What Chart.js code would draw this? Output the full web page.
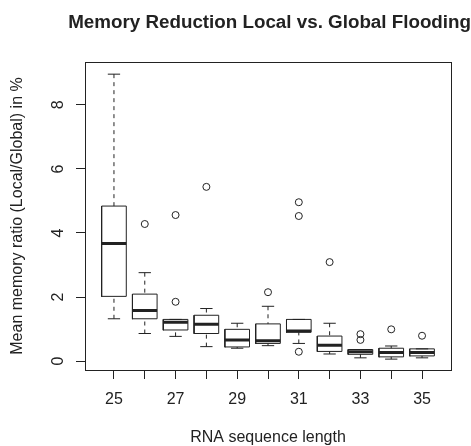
<!DOCTYPE html>
<html>
<head>
<meta charset="utf-8">
<script src="https://cdn.jsdelivr.net/npm/chart.js@4.4.0/dist/chart.umd.min.js"></script>
<style>
  html, body { margin: 0; padding: 0; background: #fff; }
  canvas { display: block; }
</style>
</head>
<body>
<canvas id="box_canvas" width="471" height="446"></canvas>
<script>
// values (mean memory ratio in %)
var lengths     = [25, 26, 27, 28, 29, 30, 31, 32, 33, 34, 35];
var whiskerLow  = [1.32, 0.86, 0.77, 0.45, 0.40, 0.48, 0.55, 0.22, 0.10, 0.06, 0.10];
var q1          = [2.02, 1.32, 0.97, 0.86, 0.44, 0.55, 0.90, 0.30, 0.21, 0.13, 0.16];
var median      = [3.67, 1.58, 1.21, 1.15, 0.66, 0.63, 0.94, 0.49, 0.29, 0.27, 0.27];
var q3          = [4.84, 2.09, 1.30, 1.43, 0.99, 1.16, 1.30, 0.78, 0.36, 0.40, 0.38];
var whiskerHigh = [8.96, 2.76, 1.30, 1.64, 1.18, 1.71, 1.30, 1.18, 0.36, 0.47, 0.38];
var outliers    = [[], [4.28], [4.56, 1.85], [5.44], [], [2.15], [4.96, 4.53, 0.29], [3.09], [0.84, 0.66], [0.99], [0.79]];

var xTicks = [25, 26, 27, 28, 29, 30, 31, 32, 33, 34, 35];
var yTicks = [0, 2, 4, 6, 8];

var ink = '#222';
var family = '"Liberation Sans", Arial, Helvetica, sans-serif';
var halfBox = 0.4, halfCap = 0.2;

function gap(x) { return {x: x, y: null}; }

var boxPts = [], medPts = [], whiskPts = [], capPts = [], outPts = [];
lengths.forEach(function(x, i) {
  boxPts.push({x: x - halfBox, y: q1[i]}, {x: x + halfBox, y: q1[i]},
              {x: x + halfBox, y: q3[i]}, {x: x - halfBox, y: q3[i]},
              {x: x - halfBox, y: q1[i]}, gap(x));
  medPts.push({x: x - halfBox, y: median[i]}, {x: x + halfBox, y: median[i]}, gap(x));
  whiskPts.push({x: x, y: whiskerHigh[i]}, {x: x, y: q3[i]}, gap(x),
                {x: x, y: whiskerLow[i]}, {x: x, y: q1[i]}, gap(x));
  capPts.push({x: x - halfCap, y: whiskerHigh[i]}, {x: x + halfCap, y: whiskerHigh[i]}, gap(x),
              {x: x - halfCap, y: whiskerLow[i]}, {x: x + halfCap, y: whiskerLow[i]}, gap(x));
  outliers[i].forEach(function(v) { outPts.push({x: x, y: v}); });
});

function lineSet(data, width, dash, cap) {
  return {
    data: data,
    borderColor: ink,
    borderWidth: width,
    borderDash: dash || [],
    borderCapStyle: cap || 'butt',
    borderJoinStyle: 'miter',
    pointRadius: 0,
    fill: false,
    spanGaps: false
  };
}

// plain box around the plot region, like R's box()
var framePlugin = {
  id: 'frame',
  afterDraw: function(chart) {
    var a = chart.chartArea, c = chart.ctx;
    c.save();
    c.strokeStyle = ink;
    c.lineWidth = 1;
    c.strokeRect(a.left + 0.5, a.top + 0.5, a.right - a.left, a.bottom - a.top);
    c.restore();
  }
};

var tickGrid = {display: true, drawOnChartArea: false, drawTicks: true, tickLength: 9, tickColor: ink, tickWidth: 1};

var boxChart = new Chart(document.getElementById('box_canvas'), {
  type: 'line',
  data: {
    datasets: [
      lineSet(whiskPts, 1, [4, 4]),
      lineSet(capPts, 1),
      lineSet(boxPts, 1, null, 'square'),
      lineSet(medPts, 3),
      {
        data: outPts,
        showLine: false,
        pointStyle: 'circle',
        pointRadius: 3.5,
        pointBorderWidth: 1,
        pointBorderColor: ink,
        pointBackgroundColor: 'rgba(0,0,0,0)'
      }
    ]
  },
  options: {
    responsive: false,
    animation: false,
    events: [],
    layout: {padding: 0},
    plugins: {
      legend: {display: false},
      tooltip: {enabled: false},
      title: {
        display: true,
        text: 'Memory Reduction Local vs. Global Flooding',
        align: 'end',
        color: ink,
        font: {family: family, size: 18.8, weight: 'bold', lineHeight: 1},
        padding: {top: 13.6, bottom: 29.6}
      }
    },
    scales: {
      x: {
        type: 'linear',
        position: 'bottom',
        min: 24.06,
        max: 35.94,
        afterBuildTicks: function(s) { s.ticks = xTicks.map(function(v) { return {value: v}; }); },
        afterFit: function(s) { s.height = 76; },
        grid: tickGrid,
        border: {display: false},
        ticks: {
          autoSkip: false,
          maxRotation: 0,
          padding: 11.4,
          color: ink,
          font: {family: family, size: 16},
          callback: function(v) { return v % 2 === 1 ? String(v) : ''; }
        },
        title: {
          display: true,
          text: 'RNA sequence length',
          color: ink,
          font: {family: family, size: 16, lineHeight: 1},
          padding: {top: 0, bottom: 0}
        }
      },
      y: {
        type: 'linear',
        position: 'left',
        min: -0.28,
        max: 9.34,
        afterBuildTicks: function(s) { s.ticks = yTicks.map(function(v) { return {value: v}; }); },
        afterFit: function(s) { s.width = 85; },
        grid: tickGrid,
        border: {display: false},
        ticks: {
          minRotation: 90,
          maxRotation: 90,
          crossAlign: 'center',
          padding: 13.2,
          color: ink,
          font: {family: family, size: 16}
        },
        title: {
          display: true,
          text: 'Mean memory ratio (Local/Global) in %',
          color: ink,
          font: {family: family, size: 16, lineHeight: 1},
          padding: {top: 9.6, bottom: 0}
        }
      },
      yRight: {
        type: 'linear',
        axis: 'y',
        position: 'right',
        grid: {display: false},
        border: {display: false},
        ticks: {display: false},
        afterFit: function(s) { s.width = 20; }
      }
    }
  },
  plugins: [framePlugin]
});
</script>
</body>
</html>
